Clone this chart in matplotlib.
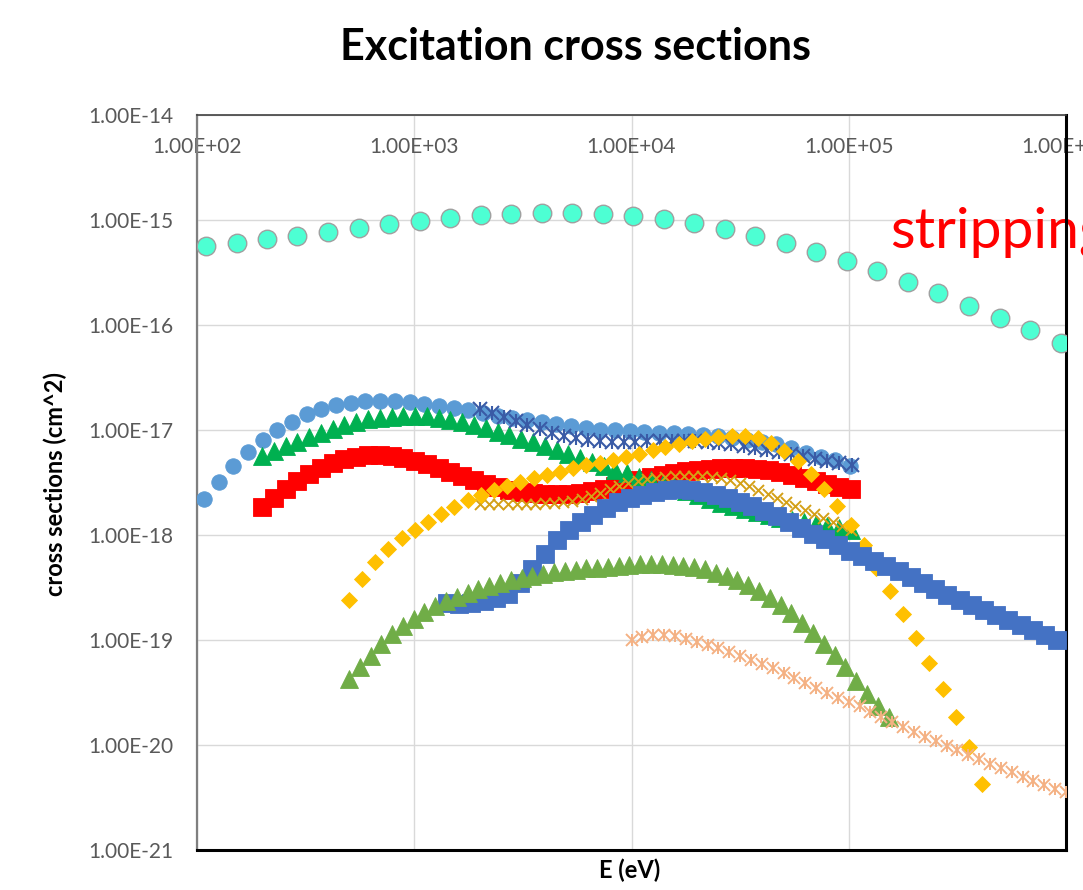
import matplotlib
matplotlib.use('Agg')
import matplotlib.pyplot as plt
from matplotlib.ticker import FixedLocator, FuncFormatter, NullLocator

plt.rcParams['font.family'] = ['Lato', 'DejaVu Sans']

# ---------------- data (energy in eV, cross section in cm^2) ----------------
stripping_E = [110, 152, 210, 290, 401, 554, 766, 1058, 1462, 2021, 2793, 3859, 5333,
               7370, 10186, 14077, 19454, 26885, 37154, 51346, 70958, 98063, 135519,
               187286, 258821, 357680, 494311, 683125, 944061]
stripping_sigma = [5.65e-16, 6.08e-16, 6.55e-16, 7.08e-16, 7.68e-16, 8.33e-16, 9.10e-16,
                   9.78e-16, 1.044e-15, 1.109e-15, 1.14e-15, 1.158e-15, 1.158e-15, 1.14e-15,
                   1.09e-15, 1.016e-15, 9.31e-16, 8.20e-16, 7.08e-16, 6.08e-16, 4.99e-16,
                   4.09e-16, 3.27e-16, 2.58e-16, 2.00e-16, 1.53e-16, 1.17e-16, 8.96e-17, 6.69e-17]

lblue_E = [108, 126, 147, 172, 201, 234, 274, 320, 374, 437, 510, 596, 697, 814, 951,
           1111, 1298, 1517, 1772, 2070, 2418, 2826, 3302, 3857, 4507, 5265, 6151, 7187,
           8397, 9808, 11460, 13390, 15640, 18280, 21350, 24950, 29150, 34060, 39790,
           46490, 54320, 63460, 74130, 86610, 101200]
lblue_sigma = [2.20e-18, 3.20e-18, 4.54e-18, 6.17e-18, 8.03e-18, 1.00e-17, 1.19e-17, 1.42e-17,
               1.58e-17, 1.73e-17, 1.81e-17, 1.89e-17, 1.89e-17, 1.89e-17, 1.85e-17, 1.77e-17,
               1.69e-17, 1.62e-17, 1.55e-17, 1.45e-17, 1.36e-17, 1.30e-17, 1.25e-17, 1.19e-17,
               1.14e-17, 1.09e-17, 1.05e-17, 1.00e-17, 1.00e-17, 9.78e-18, 9.57e-18, 9.36e-18,
               9.36e-18, 9.16e-18, 8.96e-18, 8.77e-18, 8.39e-18, 8.03e-18, 7.68e-18, 7.36e-18,
               6.74e-18, 6.04e-18, 5.53e-18, 5.18e-18, 4.54e-18]

grid200_E = [200, 226, 256, 290, 328, 372, 421, 477, 541, 613, 694, 786, 891, 1009, 1144,
             1296, 1468, 1663, 1884, 2135, 2420, 2741, 3105, 3518, 3987, 4517, 5117, 5797,
             6570, 7441, 8432, 9553, 10825, 12262, 13893, 15740, 17837, 20208, 22893, 25937,
             29390, 33297, 37722, 42737, 48431, 54865, 62160, 70424, 79800, 90410, 102420]
red_sigma = [1.85e-18, 2.25e-18, 2.74e-18, 3.27e-18, 3.81e-18, 4.35e-18, 4.85e-18, 5.30e-18,
             5.53e-18, 5.78e-18, 5.78e-18, 5.66e-18, 5.41e-18, 5.07e-18, 4.75e-18, 4.35e-18,
             3.98e-18, 3.65e-18, 3.34e-18, 3.06e-18, 2.87e-18, 2.68e-18, 2.57e-18, 2.51e-18,
             2.46e-18, 2.46e-18, 2.46e-18, 2.51e-18, 2.63e-18, 2.74e-18, 2.93e-18, 3.13e-18,
             3.34e-18, 3.57e-18, 3.73e-18, 3.90e-18, 4.07e-18, 4.16e-18, 4.25e-18, 4.35e-18,
             4.35e-18, 4.35e-18, 4.25e-18, 4.16e-18, 3.98e-18, 3.73e-18, 3.49e-18, 3.27e-18,
             3.06e-18, 2.87e-18, 2.74e-18]
green_sigma = [5.66e-18, 6.31e-18, 7.04e-18, 7.77e-18, 8.58e-18, 9.36e-18, 1.022e-17, 1.104e-17,
               1.192e-17, 1.259e-17, 1.301e-17, 1.330e-17, 1.360e-17, 1.360e-17, 1.345e-17,
               1.301e-17, 1.245e-17, 1.179e-17, 1.116e-17, 1.034e-17, 9.57e-18, 8.87e-18,
               8.21e-18, 7.69e-18, 7.04e-18, 6.45e-18, 5.91e-18, 5.41e-18, 4.96e-18, 4.54e-18,
               4.16e-18, 3.90e-18, 3.57e-18, 3.34e-18, 3.06e-18, 2.87e-18, 2.63e-18, 2.41e-18,
               2.20e-18, 2.02e-18, 1.89e-18, 1.77e-18, 1.66e-18, 1.55e-18, 1.45e-18, 1.39e-18,
               1.33e-18, 1.27e-18, 1.22e-18, 1.17e-18, 1.12e-18]

star_E = [2000, 2270, 2580, 2930, 3320, 3780, 4290, 4870, 5530, 6280, 7130, 8090, 9190,
          10400, 11800, 13500, 15300, 17400, 19700, 22400, 25400, 28800, 32800, 37200,
          42200, 48000, 54500, 61800, 70200, 79700, 90500, 103000]
star_sigma = [1.585e-17, 1.452e-17, 1.330e-17, 1.218e-17, 1.116e-17, 1.022e-17, 9.36e-18,
              8.77e-18, 8.39e-18, 8.03e-18, 7.86e-18, 7.69e-18, 7.69e-18, 7.69e-18, 7.86e-18,
              7.86e-18, 7.86e-18, 7.86e-18, 7.86e-18, 7.69e-18, 7.52e-18, 7.36e-18, 7.04e-18,
              6.74e-18, 6.45e-18, 6.17e-18, 5.91e-18, 5.66e-18, 5.30e-18, 5.07e-18, 4.85e-18,
              4.64e-18]

gold_E = [2000, 2210, 2440, 2690, 2970, 3270, 3610, 3980, 4400, 4850, 5350, 5900, 6520, 7190,
          7930, 8750, 9660, 10700, 11800, 13000, 14300, 15800, 17400, 19200, 21200, 23400,
          25800, 28500, 31500, 34700, 38300, 42300, 46600, 51500, 56800, 62600, 69100, 76300,
          84200, 92900, 102000]
gold_sigma = [1.97e-18, 1.97e-18, 1.97e-18, 1.97e-18, 1.97e-18, 1.97e-18, 1.97e-18, 2.02e-18,
              2.02e-18, 2.06e-18, 2.11e-18, 2.20e-18, 2.35e-18, 2.51e-18, 2.74e-18, 2.93e-18,
              3.13e-18, 3.27e-18, 3.42e-18, 3.49e-18, 3.57e-18, 3.65e-18, 3.65e-18, 3.65e-18,
              3.65e-18, 3.57e-18, 3.49e-18, 3.34e-18, 3.13e-18, 2.93e-18, 2.68e-18, 2.46e-18,
              2.25e-18, 2.06e-18, 1.89e-18, 1.73e-18, 1.59e-18, 1.45e-18, 1.33e-18, 1.22e-18,
              1.12e-18]

diamond_E = [500, 575, 661, 761, 875, 1010, 1160, 1330, 1530, 1760, 2030, 2330, 2680, 3080,
             3540, 4080, 4690, 5390, 6200, 7130, 8200, 9430, 10800, 12500, 14300, 16500,
             19000, 21800, 25100, 28900, 33200, 38200, 43900, 50500, 58100, 66800, 76800,
             88400, 102000, 117000, 134000, 155000, 178000, 205000, 235000, 271000, 311000,
             358000, 412000]
diamond_sigma = [2.41e-19, 3.81e-19, 5.53e-19, 7.36e-19, 9.36e-19, 1.12e-18, 1.33e-18, 1.59e-18,
                 1.85e-18, 2.15e-18, 2.41e-18, 2.68e-18, 2.93e-18, 3.20e-18, 3.49e-18, 3.73e-18,
                 3.98e-18, 4.35e-18, 4.64e-18, 4.85e-18, 5.18e-18, 5.53e-18, 5.91e-18, 6.45e-18,
                 6.89e-18, 7.36e-18, 7.86e-18, 8.21e-18, 8.58e-18, 8.77e-18, 8.77e-18, 8.39e-18,
                 7.52e-18, 6.31e-18, 5.07e-18, 3.81e-18, 2.74e-18, 1.89e-18, 1.25e-18, 8.03e-19,
                 4.85e-19, 2.93e-19, 1.77e-19, 1.05e-19, 6.04e-20, 3.42e-20, 1.85e-20, 9.57e-21,
                 4.25e-21]

square_E = [1415, 1610, 1833, 2086, 2374, 2702, 3075, 3500, 3983, 4533, 5159, 5872, 6683, 7606,
            8656, 9852, 11212, 12761, 14523, 16529, 18812, 21410, 24367, 27733, 31563, 35922,
            40884, 46530, 52957, 60271, 68595, 78069, 88851, 101122, 115088, 130983, 149074,
            169663, 193095, 219764, 250116, 284660, 323975, 368720, 419645, 477604, 543567,
            618640, 704082, 801325, 911998]
square_sigma = [2.25e-19, 2.20e-19, 2.25e-19, 2.35e-19, 2.51e-19, 2.74e-19, 3.49e-19, 4.75e-19,
                6.59e-19, 8.96e-19, 1.12e-18, 1.33e-18, 1.55e-18, 1.81e-18, 2.06e-18, 2.25e-18,
                2.41e-18, 2.57e-18, 2.68e-18, 2.74e-18, 2.68e-18, 2.57e-18, 2.41e-18, 2.25e-18,
                2.06e-18, 1.89e-18, 1.69e-18, 1.52e-18, 1.33e-18, 1.17e-18, 1.02e-18, 9.16e-19,
                8.03e-19, 7.04e-19, 6.31e-19, 5.66e-19, 5.07e-19, 4.54e-19, 3.98e-19, 3.49e-19,
                3.06e-19, 2.68e-19, 2.41e-19, 2.15e-19, 1.93e-19, 1.73e-19, 1.55e-19, 1.39e-19,
                1.25e-19, 1.12e-19, 1.00e-19]

ltri_E = [500, 561, 629, 705, 790, 886, 993, 1114, 1249, 1400, 1570, 1760, 1973, 2212, 2480,
          2781, 3118, 3496, 3920, 4395, 4927, 5525, 6194, 6945, 7787, 8730, 9788, 10974,
          12304, 13796, 15468, 17342, 19444, 21801, 24443, 27405, 30727, 34451, 38626, 43307,
          48556, 54440, 61038, 68436, 76730, 86029, 96455, 108145, 121252, 135947, 152423]
ltri_sigma = [4.25e-20, 5.53e-20, 7.04e-20, 9.16e-20, 1.14e-19, 1.36e-19, 1.59e-19, 1.85e-19,
              2.11e-19, 2.35e-19, 2.57e-19, 2.80e-19, 3.06e-19, 3.27e-19, 3.49e-19, 3.73e-19,
              3.90e-19, 4.07e-19, 4.25e-19, 4.44e-19, 4.54e-19, 4.64e-19, 4.80e-19, 4.90e-19,
              5.01e-19, 5.12e-19, 5.18e-19, 5.24e-19, 5.30e-19, 5.30e-19, 5.18e-19, 5.07e-19,
              4.96e-19, 4.70e-19, 4.35e-19, 4.03e-19, 3.73e-19, 3.34e-19, 2.93e-19, 2.51e-19,
              2.15e-19, 1.81e-19, 1.45e-19, 1.17e-19, 9.16e-20, 7.20e-20, 5.53e-20, 4.07e-20,
              3.06e-20, 2.35e-20, 1.85e-20]

salmon_E = [10000, 11220, 12589, 14125, 15849, 17783, 19953, 22387, 25119, 28184, 31623,
            35481, 39811, 44668, 50119, 56234, 63096, 70795, 79433, 89125, 100000, 112202,
            125893, 141254, 158489, 177828, 199526, 223872, 251189, 281838, 316228, 354813,
            398107, 446684, 501187, 562341, 630957, 707946, 794328, 891251, 1000000]
salmon_sigma = [1.00e-19, 1.07e-19, 1.12e-19, 1.12e-19, 1.09e-19, 1.02e-19, 9.57e-20, 8.96e-20,
                8.39e-20, 7.69e-20, 7.04e-20, 6.45e-20, 5.91e-20, 5.41e-20, 4.85e-20, 4.35e-20,
                3.90e-20, 3.49e-20, 3.13e-20, 2.80e-20, 2.57e-20, 2.35e-20, 2.06e-20, 1.85e-20,
                1.66e-20, 1.48e-20, 1.33e-20, 1.19e-20, 1.09e-20, 9.78e-21, 8.96e-21, 8.03e-21,
                7.36e-21, 6.59e-21, 6.04e-21, 5.53e-21, 4.96e-21, 4.54e-21, 4.16e-21, 3.81e-21,
                3.57e-21]

x_ticks = [1e2, 1e3, 1e4, 1e5, 1e6]
y_ticks = [1e-21, 1e-20, 1e-19, 1e-18, 1e-17, 1e-16, 1e-15, 1e-14]

title_text = 'Excitation cross sections'
xlabel_text = 'E (eV)'
ylabel_text = 'cross sections (cm^2)'
note_text = 'stripping'

# ---------------- figure ----------------
W, H = 1083, 890
fig = plt.figure(figsize=(W / 100, H / 100), dpi=100)
L, R, T, B = 197, 1066, 115, 850
ax = fig.add_axes([L / W, 1 - B / H, (R - L) / W, (B - T) / H])
ax.set_xscale('log')
ax.set_yscale('log')
ax.set_xlim(x_ticks[0], x_ticks[-1])
ax.set_ylim(y_ticks[0], y_ticks[-1])
ax.set_axisbelow(True)


def pts(px):
    return px * 0.72


def filled(E, s, marker, size_px, color, edge=None, ew=0.6, z=3):
    ax.plot(E, s, linestyle='none', marker=marker, ms=pts(size_px), mfc=color,
            mec=edge if edge else color, mew=ew, zorder=z)


def stroke(E, s, marker, size_px, color, lw=1.3, z=3):
    ax.plot(E, s, linestyle='none', marker=marker, ms=pts(size_px), mfc='none',
            mec=color, mew=lw, zorder=z)


filled(stripping_E, stripping_sigma, 'o', 18.5, '#4DFFD3', edge='#A0A0A0', ew=1.0, z=3.0)
filled(lblue_E, lblue_sigma, 'o', 15.5, '#5B9BD5', z=3.1)
filled(grid200_E, red_sigma, 's', 17.5, '#FF0000', z=3.2)
filled(grid200_E, green_sigma, '^', 18, '#00B050', z=3.3)
stroke(star_E, star_sigma, 'x', 14.5, '#3A5BA6', lw=1.5, z=3.4)
stroke(star_E, star_sigma, '|', 14.5, '#3A5BA6', lw=1.5, z=3.4)
stroke(gold_E, gold_sigma, 'x', 11, '#D4A017', lw=1.4, z=3.5)
filled(diamond_E, diamond_sigma, 'D', 12, '#FFC000', z=3.6)
filled(square_E, square_sigma, 's', 17.5, '#4472C4', z=3.7)
filled(ltri_E, ltri_sigma, '^', 18, '#70AD47', z=3.8)
stroke(salmon_E, salmon_sigma, 'x', 12.5, '#F4B183', lw=1.4, z=3.9)
stroke(salmon_E, salmon_sigma, '|', 12.5, '#F4B183', lw=1.4, z=3.9)

# ---------------- axes styling ----------------
fmt = FuncFormatter(lambda v, p: f'{v:.2E}')
ax.xaxis.set_major_locator(FixedLocator(x_ticks))
ax.yaxis.set_major_locator(FixedLocator(y_ticks))
ax.xaxis.set_minor_locator(NullLocator())
ax.yaxis.set_minor_locator(NullLocator())
ax.xaxis.set_major_formatter(fmt)
ax.yaxis.set_major_formatter(fmt)
ax.grid(True, which='major', color='#D9D9D9', lw=1.0)

ax.tick_params(axis='x', which='both', bottom=False, top=False, labelbottom=False,
               labeltop=True, length=0, pad=pts(-42), labelsize=15, labelcolor='#595959')
ax.tick_params(axis='y', which='both', left=False, right=False, length=0, pad=pts(24),
               labelsize=15, labelcolor='#595959')

ax.spines['left'].set_color('#7F7F7F')
ax.spines['left'].set_linewidth(1.6)
ax.spines['top'].set_color('#404040')
ax.spines['top'].set_linewidth(1.2)
ax.spines['bottom'].set_color('#000000')
ax.spines['bottom'].set_linewidth(2.2)
ax.spines['right'].set_color('#000000')
ax.spines['right'].set_linewidth(2.2)

ax.set_xlabel(xlabel_text, fontsize=17, fontweight='bold', color='#000000')
ax.set_ylabel(ylabel_text, fontsize=17, fontweight='bold', color='#000000')
ax.xaxis.label.set_verticalalignment('center')
ax.yaxis.label.set_verticalalignment('center')
ax.xaxis.set_label_coords((630 - L) / (R - L), (B - 870) / (B - T))
ax.yaxis.set_label_coords((55 - L) / (R - L), (B - 484) / (B - T))

fig.text(575 / W, 1 - 47 / H, title_text, ha='center', va='center', fontsize=31,
         fontweight='bold', color='#000000')

ax.text(890 / W, 1 - 247 / H, note_text, transform=fig.transFigure, ha='left',
        va='baseline', fontsize=41, color='#FF0000', clip_on=False, zorder=2)

fig.savefig('out.png', dpi=100)
